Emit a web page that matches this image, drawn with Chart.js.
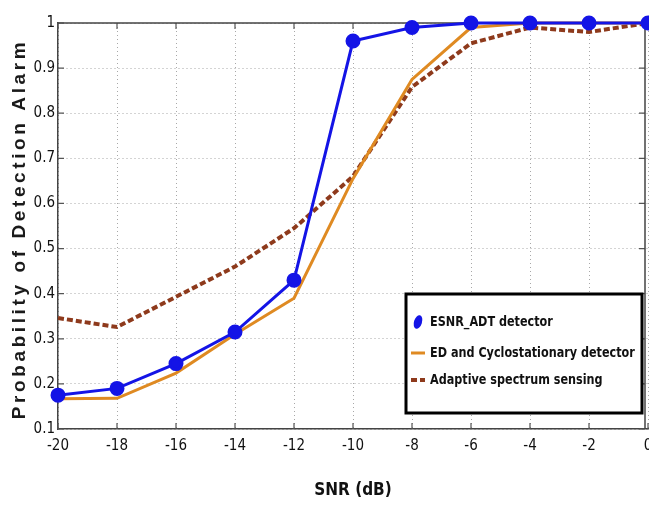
<!DOCTYPE html>
<html>
<head>
<meta charset="utf-8">
<script src="https://cdn.jsdelivr.net/npm/chart.js@4.4.0/dist/chart.umd.min.js"></script>
<style>
  html, body { margin: 0; padding: 0; background: #fff; }
  #wrap { width: 649px; height: 505px; position: relative; }
</style>
</head>
<body>
<div id="wrap"><canvas id="c"></canvas></div>
<script>
// values
const snr = [-20, -18, -16, -14, -12, -10, -8, -6, -4, -2, 0];
const esnrAdt = [0.175, 0.19, 0.245, 0.315, 0.43, 0.96, 0.99, 1.0, 1.0, 1.0, 1.0];
const edCyclo = [0.167, 0.168, 0.224, 0.31, 0.39, 0.655, 0.875, 0.99, 1.0, 1.0, 1.0];
const adaptive = [0.346, 0.326, 0.393, 0.46, 0.545, 0.66, 0.858, 0.955, 0.99, 0.98, 1.0];
const yTicks = [0.1, 0.2, 0.3, 0.4, 0.5, 0.6, 0.7, 0.8, 0.9, 1];
const xTicks = [-20, -18, -16, -14, -12, -10, -8, -6, -4, -2, 0];

const FONT = "'DejaVu Sans Condensed', 'Liberation Sans Narrow', 'Liberation Sans', Arial, sans-serif";

const toXY = (arr) => arr.map((v, i) => ({ x: snr[i], y: v }));
const noPad = () => ({ left: 0, top: 0, right: 0, bottom: 0 });

// legend box drawn like the matlab one
const legendBox = {
  id: "legendBox",
  afterDraw(chart) {
    const { ctx } = chart;
    const x0 = 406, y0 = 294, w = 236, h = 119;
    ctx.save();
    ctx.fillStyle = "#fff";
    ctx.fillRect(x0, y0, w, h);
    ctx.lineWidth = 3;
    ctx.strokeStyle = "#000";
    ctx.strokeRect(x0, y0, w, h);
    ctx.font = "bold 14.5px " + FONT;
    ctx.textBaseline = "middle";
    const rows = [y0 + 28, y0 + 59, y0 + 86];
    chart.data.datasets.forEach((ds, i) => {
      const y = rows[i];
      ctx.strokeStyle = ds.borderColor;
      ctx.fillStyle = ds.borderColor;
      if (i === 0) {
        ctx.beginPath();
        ctx.ellipse(x0 + 12, y, 4, 7, 0.3, 0, Math.PI * 2);
        ctx.fill();
      } else {
        ctx.lineWidth = ds.borderWidth;
        ctx.setLineDash(ds.borderDash || []);
        ctx.beginPath();
        ctx.moveTo(x0 + 5, y);
        ctx.lineTo(x0 + 19, y);
        ctx.stroke();
        ctx.setLineDash([]);
      }
      ctx.save();
      ctx.translate(x0 + 24, y);
      ctx.scale(0.86, 1);
      ctx.fillStyle = "#111";
      ctx.fillText(ds.label, 0, 0);
      ctx.restore();
    });
    ctx.restore();
  }
};

// y title with wide letter spacing
const yTitle = {
  id: "yTitle",
  afterDraw(chart) {
    const { ctx } = chart;
    ctx.save();
    ctx.translate(20, 229);
    ctx.rotate(-Math.PI / 2);
    ctx.font = "bold 19px 'Liberation Sans', Arial, sans-serif";
    ctx.letterSpacing = "3.6px";
    ctx.fillStyle = "#1a1a1a";
    ctx.textAlign = "center";
    ctx.textBaseline = "middle";
    ctx.fillText("Probability of Detection Alarm", 0, 0);
    ctx.restore();
  }
};

// box outline and inward tick marks (matlab style)
const axesBox = {
  id: "axesBox",
  beforeDatasetsDraw(chart) {
    const { ctx, chartArea: a, scales } = chart;
    ctx.save();
    ctx.strokeStyle = "#555";
    ctx.lineWidth = 1.2;
    ctx.beginPath();
    xTicks.forEach(v => {
      const px = scales.x.getPixelForValue(v);
      ctx.moveTo(px, a.top); ctx.lineTo(px, a.top + 6);
      ctx.moveTo(px, a.bottom); ctx.lineTo(px, a.bottom - 6);
    });
    yTicks.forEach(v => {
      const py = scales.y.getPixelForValue(v);
      ctx.moveTo(a.left, py); ctx.lineTo(a.left + 6, py);
      ctx.moveTo(a.right - 3, py); ctx.lineTo(a.right - 9, py);
    });
    ctx.stroke();
    ctx.strokeStyle = "#444";
    ctx.lineWidth = 1.5;
    ctx.beginPath();
    ctx.moveTo(a.left, a.top); ctx.lineTo(a.right, a.top);
    ctx.moveTo(a.right - 3, a.top); ctx.lineTo(a.right - 3, a.bottom);
    ctx.stroke();
    ctx.restore();
  }
};

new Chart(document.getElementById("c"), {
  type: "line",
  data: {
    datasets: [
      {
        label: "ESNR_ADT detector",
        data: toXY(esnrAdt),
        borderColor: "#1414e6",
        backgroundColor: "#1414e6",
        borderWidth: 3,
        pointRadius: 6,
        pointHoverRadius: 6,
        tension: 0,
        order: 0
      },
      {
        label: "ED and Cyclostationary detector",
        data: toXY(edCyclo),
        borderColor: "#df8a22",
        borderWidth: 3,
        pointRadius: 0,
        tension: 0,
        order: 1
      },
      {
        label: "Adaptive spectrum sensing",
        data: toXY(adaptive),
        borderColor: "#8e3a1c",
        borderWidth: 4,
        borderDash: [6, 3],
        pointRadius: 0,
        tension: 0,
        order: 2
      }
    ]
  },
  options: {
    responsive: true,
    maintainAspectRatio: false,
    animation: false,
    clip: false,
    layout: { autoPadding: false, padding: { top: 23, right: 1, left: 0, bottom: 0 } },
    plugins: { legend: { display: false }, tooltip: { enabled: false } },
    scales: {
      x: {
        type: "linear",
        min: -20,
        max: 0,
        afterBuildTicks: (s) => { s.ticks = xTicks.map(v => ({ value: v })); },
        afterFit: (s) => {
          s.height = 76; s.paddingRight = 0; s.paddingLeft = 0; s.getPadding = noPad;
        },
        grid: { color: "#a8a8a8", drawTicks: false },
        border: { color: "#444", width: 1.5, dash: [1, 3] },
        ticks: { color: "#111", font: { family: FONT, size: 15 }, padding: 8 },
        title: {
          display: true,
          text: "SNR (dB)",
          color: "#111",
          font: { family: FONT, size: 17, weight: "bold" },
          padding: { top: 14 }
        }
      },
      y: {
        min: 0.1,
        max: 1,
        afterBuildTicks: (s) => { s.ticks = yTicks.map(v => ({ value: v })); },
        afterFit: (s) => {
          s.width = 58; s.paddingTop = 0; s.paddingBottom = 0; s.getPadding = noPad;
        },
        grid: { color: "#a8a8a8", drawTicks: false },
        border: { color: "#444", width: 1.5, dash: [1, 3] },
        ticks: {
          color: "#111",
          font: { family: FONT, size: 15 },
          padding: 3,
          callback: (v) => String(+v.toFixed(1))
        }
      }
    }
  },
  plugins: [axesBox, legendBox, yTitle]
});
</script>
</body>
</html>
